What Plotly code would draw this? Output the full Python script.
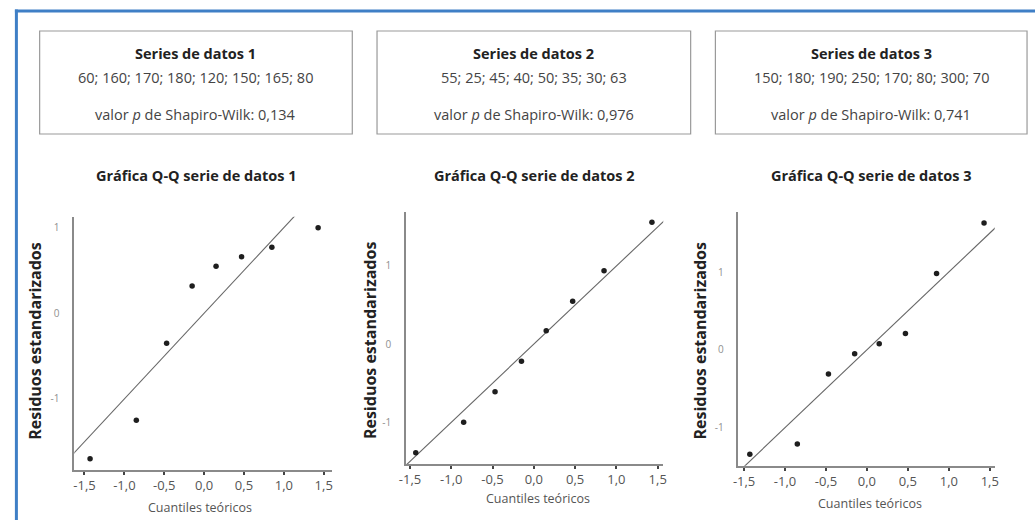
import plotly.graph_objects as go

W, H = 1035, 520

# ---------------- data ----------------
series_titles = ["Series de datos 1", "Series de datos 2", "Series de datos 3"]
series1_values = [60, 160, 170, 180, 120, 150, 165, 80]
series2_values = [55, 25, 45, 40, 50, 35, 30, 63]
series3_values = [150, 180, 190, 250, 170, 80, 300, 70]
shapiro_p = ["0,134", "0,976", "0,741"]

qq_titles = ["Gráfica Q-Q serie de datos 1",
             "Gráfica Q-Q serie de datos 2",
             "Gráfica Q-Q serie de datos 3"]

theoretical_q = [-1.43, -0.85, -0.47, -0.15, 0.15, 0.47, 0.85, 1.43]
std_resid_1 = [-1.70, -1.25, -0.35, 0.32, 0.55, 0.66, 0.77, 1.00]
std_resid_2 = [-1.39, -1.00, -0.61, -0.22, 0.17, 0.55, 0.94, 1.56]
std_resid_3 = [-1.34, -1.21, -0.31, -0.05, 0.08, 0.21, 0.98, 1.63]

ref_line = [-2.0, 2.0]  # identity line y = x

x_ticks = [-1.5, -1.0, -0.5, 0.0, 0.5, 1.0, 1.5]
x_tick_labels = ["-1,5", "-1,0", "-0,5", "0,0", "0,5", "1,0", "1,5"]
y_ticks = [-1, 0, 1]
y_tick_labels = ["-1", "0", "1"]

x_axis_title = "Cuantiles teóricos"
y_axis_title = "Residuos estandarizados"

# ---------------- layout helpers ----------------
FONT = "Open Sans"
def px(x):
    return x / W
def py(y):
    return 1 - y / H

values_all = [series1_values, series2_values, series3_values]
resid_all = [std_resid_1, std_resid_2, std_resid_3]

boxes = [(33, 349), (374, 691), (716, 1031)]
box_top, box_bot = 31, 134

panels = [
    dict(x0=68, x1=328, y0=216.7, y1=470, xr=[-1.628, 1.598], yr=[-1.83, 1.128],
         title_x=191, ytitle_x=28, xtitle_x=195, xtitle_y=507),
    dict(x0=403.3, x1=663.3, y0=211.7, y1=464, xr=[-1.548, 1.567], yr=[-1.533, 1.694],
         title_x=533, ytitle_x=367, xtitle_x=537, xtitle_y=498),
    dict(x0=739.3, x1=998.3, y0=212.3, y1=465.7, xr=[-1.569, 1.56], yr=[-1.488, 1.767],
         title_x=873, ytitle_x=700, xtitle_x=872, xtitle_y=503),
]

fig = go.Figure()
shapes = []
annotations = []
layout_axes = {}

# blue frame
frame_col = "#3f7fc6"
shapes.append(dict(type="line", xref="paper", yref="paper", x0=px(8), x1=1.02,
                   y0=py(11), y1=py(11), line=dict(color=frame_col, width=3)))
shapes.append(dict(type="line", xref="paper", yref="paper", x0=px(9.5), x1=px(9.5),
                   y0=py(9.5), y1=-0.02, line=dict(color=frame_col, width=3)))

for i in range(3):
    bx0, bx1 = boxes[i]
    cx = (bx0 + bx1) / 2
    shapes.append(dict(type="rect", xref="paper", yref="paper",
                       x0=px(bx0), x1=px(bx1), y0=py(box_bot), y1=py(box_top),
                       line=dict(color="#9a9a9a", width=1.2), fillcolor="rgba(0,0,0,0)"))
    annotations.append(dict(xref="paper", yref="paper", x=px(cx), y=py(54),
                            text="<b>" + series_titles[i] + "</b>", showarrow=False,
                            xanchor="center", yanchor="middle",
                            font=dict(family=FONT, size=14.5, color="#222222")))
    annotations.append(dict(xref="paper", yref="paper", x=px(cx), y=py(77),
                            text="; ".join(str(v) for v in values_all[i]), showarrow=False,
                            xanchor="center", yanchor="middle",
                            font=dict(family=FONT, size=14.5, color="#444444")))
    annotations.append(dict(xref="paper", yref="paper", x=px(cx), y=py(114),
                            text="valor <i>p</i> de Shapiro-Wilk: " + shapiro_p[i], showarrow=False,
                            xanchor="center", yanchor="middle",
                            font=dict(family=FONT, size=14.5, color="#444444")))

    p = panels[i]
    sfx = "" if i == 0 else str(i + 1)
    xa = "x" + sfx
    ya = "y" + sfx

    fig.add_trace(go.Scatter(x=ref_line, y=ref_line, mode="lines",
                             line=dict(color="#666666", width=1.1),
                             xaxis=xa, yaxis=ya, showlegend=False, hoverinfo="skip"))
    fig.add_trace(go.Scatter(x=theoretical_q, y=resid_all[i], mode="markers",
                             marker=dict(color="#1e1e1e", size=5.5),
                             xaxis=xa, yaxis=ya, showlegend=False, cliponaxis=False))

    layout_axes["xaxis" + sfx] = dict(
        domain=[px(p["x0"]), px(p["x1"])], range=p["xr"], anchor=ya,
        showline=True, linecolor="#8a8a8a", linewidth=1.6, showgrid=False, zeroline=False,
        tickvals=x_ticks, ticktext=x_tick_labels, ticks="outside", ticklen=3,
        tickcolor="#444444", tickwidth=1.5,
        tickfont=dict(family=FONT, size=13, color="#555555"), fixedrange=True)
    layout_axes["yaxis" + sfx] = dict(
        domain=[py(p["y1"]), py(p["y0"])], range=p["yr"], anchor=xa,
        showline=True, linecolor="#8a8a8a", linewidth=1.6, showgrid=False, zeroline=False,
        tickvals=y_ticks, ticktext=y_tick_labels, ticks="outside", ticklen=11,
        tickcolor="rgba(0,0,0,0)",
        tickfont=dict(family=FONT, size=10, color="#8f8f8f"), fixedrange=True)

    annotations.append(dict(xref="paper", yref="paper", x=px(p["title_x"]), y=py(175),
                            text="<b>" + qq_titles[i] + "</b>", showarrow=False,
                            xanchor="center", yanchor="middle",
                            font=dict(family=FONT, size=14.5, color="#222222")))
    annotations.append(dict(xref="paper", yref="paper", x=px(p["ytitle_x"]), y=py(341),
                            text="<b>" + y_axis_title + "</b>", showarrow=False,
                            textangle=-90, xanchor="center", yanchor="middle",
                            font=dict(family=FONT, size=16, color="#222222")))
    annotations.append(dict(xref="paper", yref="paper", x=px(p["xtitle_x"]), y=py(p["xtitle_y"]),
                            text=x_axis_title, showarrow=False,
                            xanchor="center", yanchor="middle",
                            font=dict(family=FONT, size=12.5, color="#555555")))

fig.update_layout(
    width=W, height=H, margin=dict(l=0, r=0, t=0, b=0),
    paper_bgcolor="white", plot_bgcolor="white",
    shapes=shapes, annotations=annotations, showlegend=False,
    **layout_axes,
)

fig.write_html("out.html", config={"displayModeBar": False},
               post_script="document.body.style.margin='0px';document.body.style.overflow='hidden';")
